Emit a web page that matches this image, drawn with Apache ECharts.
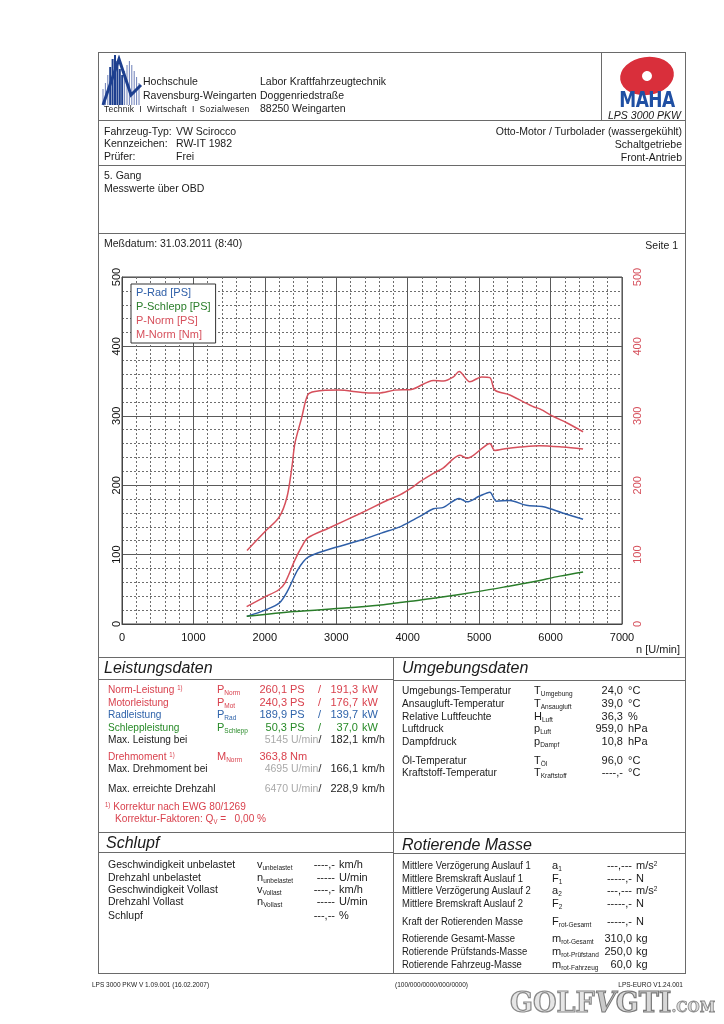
<!DOCTYPE html>
<html><head><meta charset="utf-8">
<script src="https://cdn.jsdelivr.net/npm/echarts@6/dist/echarts.min.js"></script>
<style>
html,body{margin:0;padding:0;background:#fff;}
body{width:724px;height:1024px;position:relative;overflow:hidden;font-family:"Liberation Sans",Arial,sans-serif;color:#1a1a1a;}
#chart{position:absolute;left:0;top:0;width:724px;height:1024px;}
.t{position:absolute;white-space:nowrap;line-height:1;transform:translateY(-50%);font-size:10.5px;transform-origin:left center;}
.r{transform:translate(-100%,-50%);}
.t sub{font-size:6.5px;vertical-align:-2px;line-height:0;}
.t sup{font-size:6.5px;vertical-align:3px;line-height:0;}
.ln{position:absolute;background:#6a6a6a;}
</style></head>
<body>
<div id="chart"></div>
<script>
// ---- data ----
const xTicks = [0,1000,2000,3000,4000,5000,6000,7000];
const yTicks = [0,100,200,300,400,500];
const seriesNames = ['P-Rad [PS]','P-Schlepp [PS]','P-Norm [PS]','M-Norm [Nm]'];

const pRadRpm = [1750,2000,2200,2320,2460,2600,2880,3350,3630,3890,4080,4170,4360,4500,4720,4830,5000,5150,5240,5430,5660,5900,6170,6455];
const pRadVal = [11,20,30,48,78,96,107,121,131,140,150,155,166,168,181,176,184,190,177,178,171,169,160,151];

const pSchleppRpm = [1745,2420,3120,3590,3890,4080,4360,5000,5390,5760,6130,6455];
const pSchleppVal = [11,18,23,27,31,33,37,47,54,61,69,75];

const pNormRpm = [1745,2000,2190,2280,2420,2515,2600,2890,3350,3730,3890,4080,4170,4360,4500,4730,4830,4920,5040,5150,5220,5390,5570,5850,6170,6455];
const pNormVal = [25,39,49,59,92,111,124,138,160,179,186,198,205,217,225,243,239,243,253,260,250,253,255,257,255,252];

const mNormRpm = [1750,2000,2200,2310,2380,2420,2515,2600,2700,3030,3450,3590,3820,4050,4360,4500,4640,4720,4870,5035,5150,5220,5430,5620,5760,5850,6040,6225,6455];
const mNormVal = [106,133,154,183,227,260,297,330,335,337,333,333,337,338,351,350,356,364,349,356,355,337,330,320,313,310,299,290,277];

const BLUE='#2f5fa8', GREEN='#2a7d2a', RED='#d6505c';
const zip=(a,b)=>a.map((x,i)=>[x,b[i]]);

const chart = echarts.init(document.getElementById('chart'));
const gridLine = {show:true,lineStyle:{color:'#5a5a5a',width:1}};
const minorLine = {show:true,lineStyle:{color:'#6e6e6e',width:1,type:[2,2]}};
chart.setOption({
  animation:false,
  grid:{left:122,top:277,width:500,height:347,show:true,borderColor:'#444',borderWidth:1,backgroundColor:'transparent'},
  legend:{
    left:131, top:284, orient:'vertical', icon:'none', itemWidth:0, itemHeight:11, itemGap:3,
    padding:[3,5,3,0], backgroundColor:'#fff', borderColor:'#333', borderWidth:1,
    textStyle:{fontSize:11,fontFamily:'Liberation Sans'},
    data:[
      {name:seriesNames[0],textStyle:{color:BLUE}},
      {name:seriesNames[1],textStyle:{color:GREEN}},
      {name:seriesNames[2],textStyle:{color:RED}},
      {name:seriesNames[3],textStyle:{color:RED}}
    ]
  },
  xAxis:{type:'value',min:xTicks[0],max:xTicks[xTicks.length-1],interval:1000,
    axisLine:{show:true,lineStyle:{color:'#444'}},axisTick:{show:false},
    axisLabel:{color:'#111',fontSize:11,margin:8,fontFamily:'Liberation Sans',formatter:v=>String(v)},
    splitLine:gridLine,minorTick:{show:false,splitNumber:5},minorSplitLine:minorLine},
  yAxis:[
    {type:'value',min:yTicks[0],max:yTicks[yTicks.length-1],interval:100,position:'left',
     axisLine:{show:true,lineStyle:{color:'#444'}},axisTick:{show:false},
     axisLabel:{color:'#111',fontSize:11,rotate:90,margin:0,fontFamily:'Liberation Sans',formatter:v=>String(v)},
     splitLine:gridLine,minorTick:{show:false,splitNumber:5},minorSplitLine:minorLine},
    {type:'value',min:yTicks[0],max:yTicks[yTicks.length-1],interval:100,position:'right',
     axisLine:{show:false},axisTick:{show:false},
     axisLabel:{color:RED,fontSize:11,rotate:90,margin:10,fontFamily:'Liberation Sans',formatter:v=>String(v)},
     splitLine:{show:false}}
  ],
  series:[
    {name:seriesNames[0],type:'line',data:zip(pRadRpm,pRadVal),smooth:0.3,showSymbol:false,lineStyle:{color:BLUE,width:1.5},itemStyle:{color:BLUE}},
    {name:seriesNames[1],type:'line',data:zip(pSchleppRpm,pSchleppVal),smooth:0.3,showSymbol:false,lineStyle:{color:GREEN,width:1.5},itemStyle:{color:GREEN}},
    {name:seriesNames[2],type:'line',data:zip(pNormRpm,pNormVal),smooth:0.3,showSymbol:false,lineStyle:{color:RED,width:1.5},itemStyle:{color:RED}},
    {name:seriesNames[3],type:'line',yAxisIndex:1,data:zip(mNormRpm,mNormVal),smooth:0.3,showSymbol:false,lineStyle:{color:RED,width:1.5},itemStyle:{color:RED}}
  ]
});

// ---- document text & frame ----
function T(x,y,html,o){o=o||{};const d=document.createElement('div');d.className='t'+(o.right?' r':'');d.innerHTML=html;
  d.style.left=x+'px';d.style.top=y+'px';
  if(o.size)d.style.fontSize=o.size+'px';if(o.color)d.style.color=o.color;if(o.italic)d.style.fontStyle='italic';
  if(o.bold)d.style.fontWeight='bold';if(o.ls)d.style.letterSpacing=o.ls+'px';if(o.font)d.style.fontFamily=o.font;
  if(o.sx)d.style.transform='translateY(-50%) scaleX('+o.sx+')';
  document.body.appendChild(d);return d;}
function L(x1,y1,x2,y2,w){const d=document.createElement('div');d.className='ln';w=w||1;
  if(y1===y2){d.style.left=x1+'px';d.style.top=y1+'px';d.style.width=(x2-x1)+'px';d.style.height=w+'px';}
  else{d.style.left=x1+'px';d.style.top=y1+'px';d.style.height=(y2-y1)+'px';d.style.width=w+'px';}
  document.body.appendChild(d);}

// frame
L(98,52,686,52);L(98,52,98,973);L(685,52,685,973);L(98,973,686,973);
L(98,120,686,120);L(601,52,601,120);L(98,165,686,165);L(98,233,686,233);
L(98,657,686,657);L(98,832,686,832);L(393,657,393,973);
L(98,679,393,679);L(393,680,685,680);L(98,852,393,852);L(393,853,685,853);

// HS logo
(function(){const ns='http://www.w3.org/2000/svg';const s=document.createElementNS(ns,'svg');
 s.setAttribute('width','42');s.setAttribute('height','52');s.style.position='absolute';s.style.left='101px';s.style.top='55px';
 const hs=[16,22,30,38,46,50,44,36,30,34,40,44,40,34,28,22];
 hs.forEach((h,i)=>{const l=document.createElementNS(ns,'line');const x=2+i*2.4;
   l.setAttribute('x1',x);l.setAttribute('x2',x);l.setAttribute('y1',50-h);l.setAttribute('y2',50);
   l.setAttribute('stroke',i>2&&i<9?'#1d3f8f':'#6d7fb8');l.setAttribute('stroke-width',i>2&&i<9?'2':'1');s.appendChild(l);});
 const p=document.createElementNS(ns,'path');p.setAttribute('d','M2 50 L18 4 L30 40 L40 30');p.setAttribute('stroke','#1d3f8f');p.setAttribute('stroke-width','3');p.setAttribute('fill','none');s.appendChild(p);
 document.body.appendChild(s);})();
T(143,81,'Hochschule',{size:10.5});
T(143,95,'Ravensburg-Weingarten',{size:10.5});
T(104,109,'Technik&nbsp; I&nbsp; Wirtschaft&nbsp; I&nbsp; Sozialwesen',{size:8.5,ls:0.2});
T(260,81,'Labor Kraftfahrzeugtechnik',{size:10.5});
T(260,95,'Doggenriedstraße',{size:10.5});
T(260,108,'88250 Weingarten',{size:10.5});

// MAHA logo
(function(){const o=document.createElement('div');o.style.cssText='position:absolute;left:620px;top:57px;width:54px;height:38px;border-radius:50%;background:#d92f3b;transform:rotate(-8deg);';
 const g=document.createElement('div');g.style.cssText='position:absolute;left:22px;top:14px;width:10px;height:10px;border-radius:50%;background:#fff;';o.appendChild(g);
 document.body.appendChild(o);})();
T(647,100,'MAHA',{size:17,bold:true,color:'#1f4fa3',font:'DejaVu Sans',ls:-0.5}).style.transform='translate(-50%,-50%) scaleY(1.2)';
T(681,115,'LPS 3000 PKW',{size:10.5,italic:true,right:true});

T(104,131,'Fahrzeug-Typ:');T(176,131,'VW Scirocco');
T(104,143,'Kennzeichen:');T(176,143,'RW-IT 1982');
T(104,156,'Prüfer:');T(176,156,'Frei');
T(682,131,'Otto-Motor / Turbolader (wassergekühlt)',{right:true});
T(682,144,'Schaltgetriebe',{right:true});
T(682,157,'Front-Antrieb',{right:true});
T(104,175,'5. Gang');T(104,188,'Messwerte über OBD');
T(104,243,'Meßdatum: 31.03.2011 (8:40)');
T(678,245,'Seite 1',{right:true});
T(636,649,'n [U/min]',{size:11});

const SX=0.92; // slightly condensed label text
// Leistungsdaten
const GRAY='#a9a9a9', LRED='#d9414d', LBLUE='#2f63aa', LGREEN='#278a27';
T(104,668,'Leistungsdaten',{size:16,italic:true});
const leist=[
 [689,'Norm-Leistung <sup>1)</sup>',LRED,'P<sub>Norm</sub>','260,1','PS','191,3','kW'],
 [702,'Motorleistung',LRED,'P<sub>Mot</sub>','240,3','PS','176,7','kW'],
 [714,'Radleistung',LBLUE,'P<sub>Rad</sub>','189,9','PS','139,7','kW'],
 [727,'Schleppleistung',LGREEN,'P<sub>Schlepp</sub>','50,3','PS','37,0','kW']];
leist.forEach(r=>{T(108,r[0],r[1],{size:11,color:r[2],sx:SX});T(217,r[0],r[3],{size:11,color:r[2]});
  T(287,r[0],r[4],{size:11,color:r[2],right:true});T(290,r[0],r[5],{size:11,color:r[2]});
  T(318,r[0],'/',{size:11,color:r[2]});T(358,r[0],r[6],{size:11,color:r[2],right:true});T(362,r[0],r[7],{size:11,color:r[2]});});
const rpmRows=[[739,'Max. Leistung bei','5145','182,1'],[768,'Max. Drehmoment bei','4695','166,1'],[788,'Max. erreichte Drehzahl','6470','228,9']];
rpmRows.forEach(r=>{T(108,r[0],r[1],{size:11,sx:SX});T(288,r[0],r[2],{size:10.5,color:GRAY,right:true});
  T(291,r[0],'U/min<span style="color:#1a1a1a">/</span>',{size:10.5,color:GRAY});T(358,r[0],r[3],{size:11,right:true});T(362,r[0],'km/h',{size:10.5});});
T(108,756,'Drehmoment <sup>1)</sup>',{size:11,color:LRED,sx:SX});T(217,756,'M<sub>Norm</sub>',{size:11,color:LRED});
T(287,756,'363,8',{size:11,color:LRED,right:true});T(290,756,'Nm',{size:11,color:LRED});
T(105,806,'<sup>1)</sup> Korrektur nach EWG 80/1269',{size:11,color:LRED,sx:SX});
T(115,818,'Korrektur-Faktoren: Q<sub>V</sub> = &nbsp; 0,00 %',{size:11,color:LRED,sx:SX});

// Umgebungsdaten
T(402,668,'Umgebungsdaten',{size:16,italic:true});
const umg=[[690,'Umgebungs-Temperatur','T<sub>Umgebung</sub>','24,0','°C'],[703,'Ansaugluft-Temperatur','T<sub>Ansaugluft</sub>','39,0','°C'],
 [716,'Relative Luftfeuchte','H<sub>Luft</sub>','36,3','%'],[728,'Luftdruck','p<sub>Luft</sub>','959,0','hPa'],
 [741,'Dampfdruck','p<sub>Dampf</sub>','10,8','hPa'],[760,'Öl-Temperatur','T<sub>Öl</sub>','96,0','°C'],
 [772,'Kraftstoff-Temperatur','T<sub>Kraftstoff</sub>','----,-','°C']];
umg.forEach(r=>{T(402,r[0],r[1],{size:11,sx:SX});T(534,r[0],r[2],{size:11});T(623,r[0],r[3],{size:11,right:true});T(628,r[0],r[4],{size:11});});

// Schlupf
T(106,843,'Schlupf',{size:16,italic:true});
const sch=[[864,'Geschwindigkeit unbelastet','v<sub>unbelastet</sub>','----,-','km/h'],[877,'Drehzahl unbelastet','n<sub>unbelastet</sub>','-----','U/min'],
 [889,'Geschwindigkeit Vollast','v<sub>Vollast</sub>','----,-','km/h'],[901,'Drehzahl Vollast','n<sub>Vollast</sub>','-----','U/min'],
 [915,'Schlupf','','---,--','%']];
sch.forEach(r=>{T(108,r[0],r[1],{size:11,sx:0.95});if(r[2])T(257,r[0],r[2],{size:11});T(335,r[0],r[3],{size:11,right:true});T(339,r[0],r[4],{size:11});});

// Rotierende Masse
T(402,845,'Rotierende Masse',{size:16,italic:true});
const rot=[[865,'Mittlere Verzögerung Auslauf 1','a<sub>1</sub>','---,---','m/s<sup>2</sup>'],[878,'Mittlere Bremskraft Auslauf 1','F<sub>1</sub>','-----,-','N'],
 [890,'Mittlere Verzögerung Auslauf 2','a<sub>2</sub>','---,---','m/s<sup>2</sup>'],[903,'Mittlere Bremskraft Auslauf 2','F<sub>2</sub>','-----,-','N'],
 [921,'Kraft der Rotierenden Masse','F<sub>rot-Gesamt</sub>','-----,-','N'],[938,'Rotierende Gesamt-Masse','m<sub>rot-Gesamt</sub>','310,0','kg'],
 [951,'Rotierende Prüfstands-Masse','m<sub>rot-Prüfstand</sub>','250,0','kg'],[964,'Rotierende Fahrzeug-Masse','m<sub>rot-Fahrzeug</sub>','60,0','kg']];
rot.forEach(r=>{T(402,r[0],r[1],{size:11,sx:0.86});T(552,r[0],r[2],{size:11});T(632,r[0],r[3],{size:11,right:true});T(636,r[0],r[4],{size:11});});

// footer
T(92,985,'LPS 3000 PKW V 1.09.001 (16.02.2007)',{size:6.5});
T(395,985,'(100/000/0000/000/0000)',{size:6.5});
T(683,985,'LPS-EURO V1.24.001',{size:6.5,right:true});
T(510,1002,'<span style="color:#e6e6e6;-webkit-text-stroke:1.2px #8a8a8a">GOLF</span><span style="color:#c9c9c9;-webkit-text-stroke:1px #777;font-style:italic">V</span><span style="color:#d8d8d8;-webkit-text-stroke:1.2px #7a7a7a">GTI</span><span style="font-size:14px;color:#ddd;-webkit-text-stroke:0.8px #888">.COM</span>',{size:27,bold:true,font:'DejaVu Serif',ls:0});
</script>
</body></html>
